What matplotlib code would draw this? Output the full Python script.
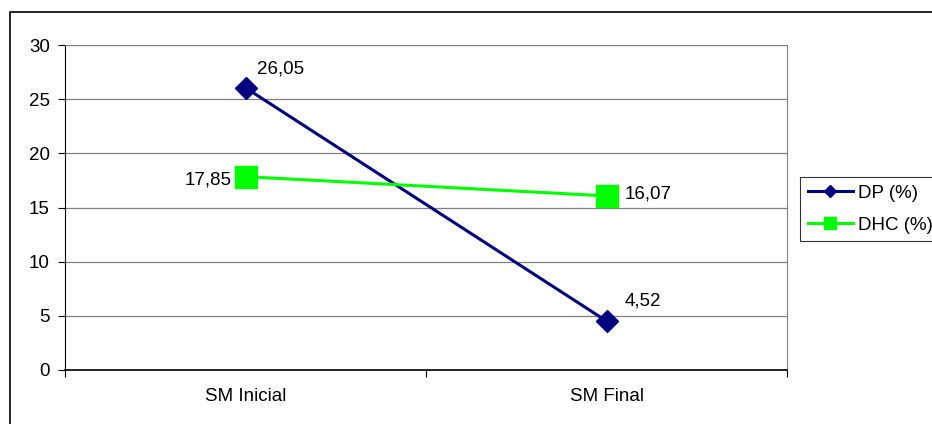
import matplotlib.pyplot as plt
from matplotlib.patches import Rectangle

plt.rcParams['font.family'] = ['Liberation Sans', 'DejaVu Sans']

categories = ['SM Inicial', 'SM Final']
dp = [26.05, 4.52]
dhc = [17.85, 16.07]
dp_labels = ['26,05', '4,52']
dhc_labels = ['17,85', '16,07']

W, H = 932, 424
FS = 13.5
fig = plt.figure(figsize=(W / 100, H / 100), dpi=100)
# plot area in pixel units
left, right, top, bottom = 65, 787, 45, 370
ax = fig.add_axes([left / W, 1 - bottom / H, (right - left) / W, (bottom - top) / H])

# outer chart border (runs off the right and bottom edges)
fig.patches.append(Rectangle((10 / W, -0.1), 1.2, 1 - 12 / H + 0.1,
                             transform=fig.transFigure, fill=False,
                             edgecolor='black', linewidth=1.2))

x = [0.5, 1.5]
ax.plot(x, dp, color='#000080', linewidth=2.2, marker='D', markersize=11,
        label='DP (%)', zorder=3)
ax.plot(x, dhc, color='#00FF00', linewidth=2.2, marker='s', markersize=15.5,
        label='DHC (%)', zorder=3)

ax.set_xlim(0, 2)
ax.set_ylim(0, 30)
ax.set_yticks(range(0, 31, 5))
ax.set_xticks([0, 1, 2])
ax.set_xticklabels([])
ax.set_xticks(x, minor=True)
ax.set_xticklabels(categories, minor=True)
ax.tick_params(axis='x', which='minor', length=0, pad=13, labelsize=FS)
ax.tick_params(axis='x', which='major', length=5, direction='out', width=0.8)
ax.tick_params(axis='y', length=5, direction='out', width=0.8, labelsize=FS, pad=6)

ax.grid(axis='y', color='#808080', linewidth=0.9)
ax.set_axisbelow(True)
for s in ['top', 'right']:
    ax.spines[s].set_color('#808080')
ax.spines['left'].set_color('black')
ax.spines['bottom'].set_color('black')
ax.spines['bottom'].set_linewidth(1.2)

# value labels
ax.annotate(dp_labels[0], (x[0], dp[0]), xytext=(12, 10), textcoords='offset pixels',
            fontsize=FS, va='bottom', ha='left')
ax.annotate(dp_labels[1], (x[1], dp[1]), xytext=(18, 12), textcoords='offset pixels',
            fontsize=FS, va='bottom', ha='left')
ax.annotate(dhc_labels[0], (x[0], dhc[0]), xytext=(-14, -3), textcoords='offset pixels',
            fontsize=FS, va='center', ha='right')
ax.annotate(dhc_labels[1], (x[1], dhc[1]), xytext=(18, 2), textcoords='offset pixels',
            fontsize=FS, va='center', ha='left')

leg = fig.legend(loc='upper left', bbox_to_anchor=(800 / W, 1 - 177 / H),
                 frameon=True, fancybox=False, edgecolor='black', fontsize=FS,
                 handlelength=2.4, handletextpad=0.3, borderpad=0.4,
                 labelspacing=0.8, borderaxespad=0, markerscale=0.6)
leg.get_frame().set_linewidth(0.8)

fig.savefig('out.png', dpi=100)
